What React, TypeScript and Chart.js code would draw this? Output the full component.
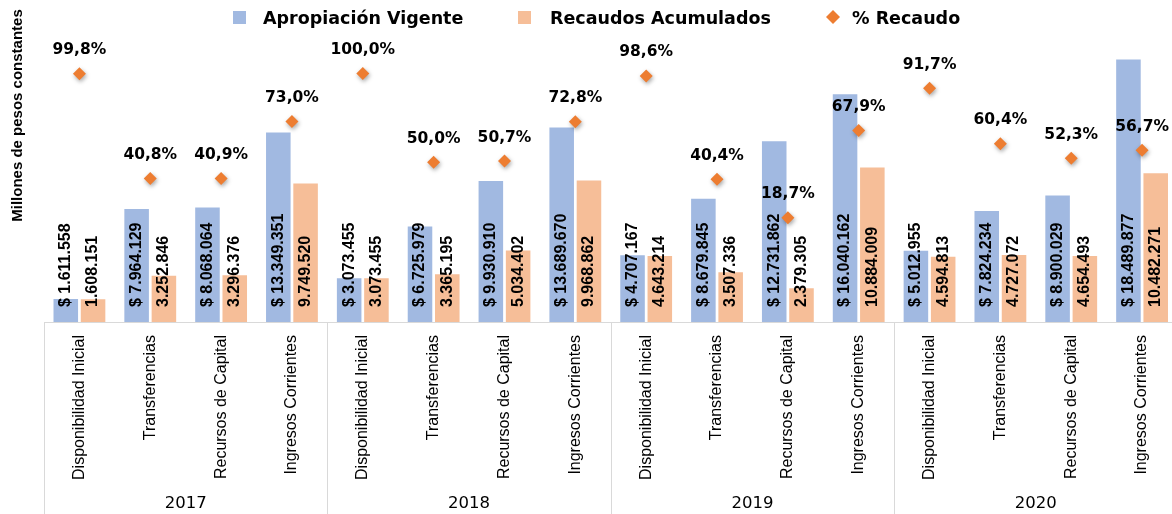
import React, { useEffect, useRef } from 'react';
import { Chart, registerables } from 'chart.js';

Chart.register(...registerables);

const YEARS = ['2017', '2018', '2019', '2020'];
const CATEGORIES = ['Disponibilidad Inicial', 'Transferencias', 'Recursos de Capital', 'Ingresos Corrientes'];
const SERIES_LABELS = ['Apropiación Vigente', 'Recaudos Acumulados', '% Recaudo'];
const Y_TITLE = 'Millones de pesos constantes';

const APROPIACION = [
  1611558, 7964129, 8068064, 13349351,
  3073455, 6725979, 9930910, 13689670,
  4707167, 8679845, 12731862, 16040162,
  5012955, 7824234, 8900029, 18489877,
];
const RECAUDOS = [
  1608151, 3252846, 3296376, 9749520,
  3073455, 3365195, 5034402, 9968862,
  4643214, 3507336, 2379305, 10884009,
  4594813, 4727072, 4654493, 10482271,
];
const PCT_RECAUDO = [
  99.8, 40.8, 40.9, 73.0,
  100.0, 50.0, 50.7, 72.8,
  98.6, 40.4, 18.7, 67.9,
  91.7, 60.4, 52.3, 56.7,
];

const BLUE = '#A1B9E1';
const ORANGE = '#F6BE98';
const DIAMOND = '#ED7D31';
const GRID = '#D9D9D9';

const fmt = (n: number) => String(Math.round(n)).replace(/\B(?=(\d{3})+(?!\d))/g, '.');
const fmtPct = (n: number) => n.toFixed(1).replace('.', ',') + '%';

const decorPlugin = {
  id: 'decor',
  beforeDatasetDraw(chart: any, args: any) {
    if (args.index === 2) {
      const ctx = chart.ctx;
      ctx.save();
      ctx.shadowColor = 'rgba(0,0,0,0.35)';
      ctx.shadowBlur = 4;
      ctx.shadowOffsetX = 1;
      ctx.shadowOffsetY = 2;
    }
  },
  afterDatasetDraw(chart: any, args: any) {
    if (args.index === 2) chart.ctx.restore();
  },
  afterDatasetsDraw(chart: any) {
    const ctx = chart.ctx;
    // bar value labels
    [0, 1].forEach((di) => {
      const meta = chart.getDatasetMeta(di);
      const data = chart.data.datasets[di].data as number[];
      meta.data.forEach((el: any, i: number) => {
        const txt = (di === 0 ? '$ ' : '') + fmt(data[i]);
        ctx.save();
        ctx.translate(el.x, el.base - 15);
        ctx.rotate(-Math.PI / 2);
        ctx.font = 'bold 16px "Liberation Sans", Arial, sans-serif';
        ctx.fillStyle = '#000';
        ctx.textAlign = 'left';
        ctx.textBaseline = 'middle';
        ctx.fillText(txt, 0, 0);
        ctx.restore();
      });
    });
    // percent labels
    const pm = chart.getDatasetMeta(2);
    const pd = chart.data.datasets[2].data as number[];
    pm.data.forEach((el: any, i: number) => {
      ctx.save();
      ctx.font = 'bold 15.5px "DejaVu Sans", sans-serif';
      ctx.fillStyle = '#000';
      ctx.textAlign = 'center';
      ctx.textBaseline = 'alphabetic';
      ctx.fillText(fmtPct(pd[i]), el.x, el.y - 19.5);
      ctx.restore();
    });
  },
  afterDraw(chart: any) {
    const ctx = chart.ctx;
    const x = chart.scales.x;
    const area = chart.chartArea;
    const n = CATEGORIES.length;
    const step = x.getPixelForValue(1) - x.getPixelForValue(0);
    // group separators
    ctx.save();
    ctx.strokeStyle = GRID;
    ctx.lineWidth = 1;
    for (let g = 0; g <= YEARS.length; g++) {
      const px = Math.round(x.getPixelForValue(g * n) - step / 2) + 0.5;
      ctx.beginPath();
      ctx.moveTo(px, area.bottom);
      ctx.lineTo(px, chart.height);
      ctx.stroke();
    }
    ctx.restore();
    // year labels
    YEARS.forEach((y, g) => {
      const cx = (x.getPixelForValue(g * n) + x.getPixelForValue(g * n + n - 1)) / 2;
      ctx.save();
      ctx.font = '16.5px "DejaVu Sans", sans-serif';
      ctx.fillStyle = '#000';
      ctx.textAlign = 'center';
      ctx.textBaseline = 'alphabetic';
      ctx.fillText(y, cx, 508);
      ctx.restore();
    });
    // y title
    ctx.save();
    ctx.translate(22, 115.5);
    ctx.rotate(-Math.PI / 2);
    ctx.font = 'bold 15px "Liberation Sans", Arial, sans-serif';
    ctx.fillStyle = '#000';
    ctx.textAlign = 'center';
    ctx.textBaseline = 'alphabetic';
    ctx.fillText(Y_TITLE, 0, 0);
    ctx.restore();
    // legend
    const ds = chart.data.datasets;
    ctx.save();
    ctx.font = 'bold 17.5px "DejaVu Sans", sans-serif';
    ctx.textAlign = 'left';
    ctx.textBaseline = 'alphabetic';
    ctx.fillStyle = ds[0].backgroundColor;
    ctx.fillRect(233, 11, 13, 13);
    ctx.fillStyle = '#000';
    ctx.fillText(ds[0].label, 263, 23.5);
    ctx.fillStyle = ds[1].backgroundColor;
    ctx.fillRect(518, 11, 13, 13);
    ctx.fillStyle = '#000';
    ctx.fillText(ds[1].label, 550, 23.5);
    ctx.fillStyle = ds[2].backgroundColor;
    ctx.beginPath();
    ctx.moveTo(833, 10);
    ctx.lineTo(840, 17);
    ctx.lineTo(833, 24);
    ctx.lineTo(826, 17);
    ctx.closePath();
    ctx.fill();
    ctx.fillStyle = '#000';
    ctx.fillText(ds[2].label, 852, 23.5);
    ctx.restore();
  },
};

export default function App() {
  const ref = useRef<HTMLCanvasElement | null>(null);
  useEffect(() => {
    if (!ref.current) return;
    const labels = YEARS.flatMap(() => CATEGORIES);
    const chart = new Chart(ref.current, {
      type: 'bar',
      data: {
        labels,
        datasets: [
          {
            type: 'bar',
            label: SERIES_LABELS[0],
            data: APROPIACION,
            backgroundColor: BLUE,
            borderWidth: 0,
            yAxisID: 'y',
            order: 2,
            categoryPercentage: 0.77,
            barPercentage: 0.9,
          } as any,
          {
            type: 'bar',
            label: SERIES_LABELS[1],
            data: RECAUDOS,
            backgroundColor: ORANGE,
            borderWidth: 0,
            yAxisID: 'y',
            order: 2,
            categoryPercentage: 0.77,
            barPercentage: 0.9,
          } as any,
          {
            type: 'line',
            label: SERIES_LABELS[2],
            data: PCT_RECAUDO,
            showLine: false,
            pointStyle: 'rectRot',
            pointRadius: 6.5,
            pointHoverRadius: 6.5,
            backgroundColor: DIAMOND,
            borderColor: DIAMOND,
            pointBorderWidth: 0,
            borderWidth: 0,
            yAxisID: 'y2',
            order: 0,
          } as any,
        ],
      },
      options: {
        responsive: false,
        animation: false,
        devicePixelRatio: 1,
        layout: { padding: { left: 44, right: 1, top: 38, bottom: 0 } },
        plugins: {
          legend: { display: false },
          tooltip: { enabled: false },
          title: { display: false },
        },
        scales: {
          x: {
            type: 'category',
            offset: true,
            grid: { display: false },
            border: { display: true, color: GRID, width: 1 },
            ticks: {
              autoSkip: false,
              minRotation: 90,
              maxRotation: 90,
              padding: 5,
              color: '#000',
              font: { family: '"Liberation Sans", Arial, sans-serif', size: 16 },
            },
            afterFit: (scale: any) => {
              scale.height = 192;
            },
          },
          y: {
            display: false,
            min: 0,
            max: 20000000,
          },
          y2: {
            display: false,
            min: -40,
            max: 120,
            position: 'right',
          },
        },
      } as any,
      plugins: [decorPlugin],
    });
    return () => chart.destroy();
  }, []);
  return (
    <div style={{ position: 'fixed', left: 0, top: 0, width: 1172, height: 514, overflow: 'hidden', background: '#fff' }}>
      <canvas ref={ref} width={1184} height={514} style={{ display: 'block', width: 1184, height: 514 }} />
    </div>
  );
}
